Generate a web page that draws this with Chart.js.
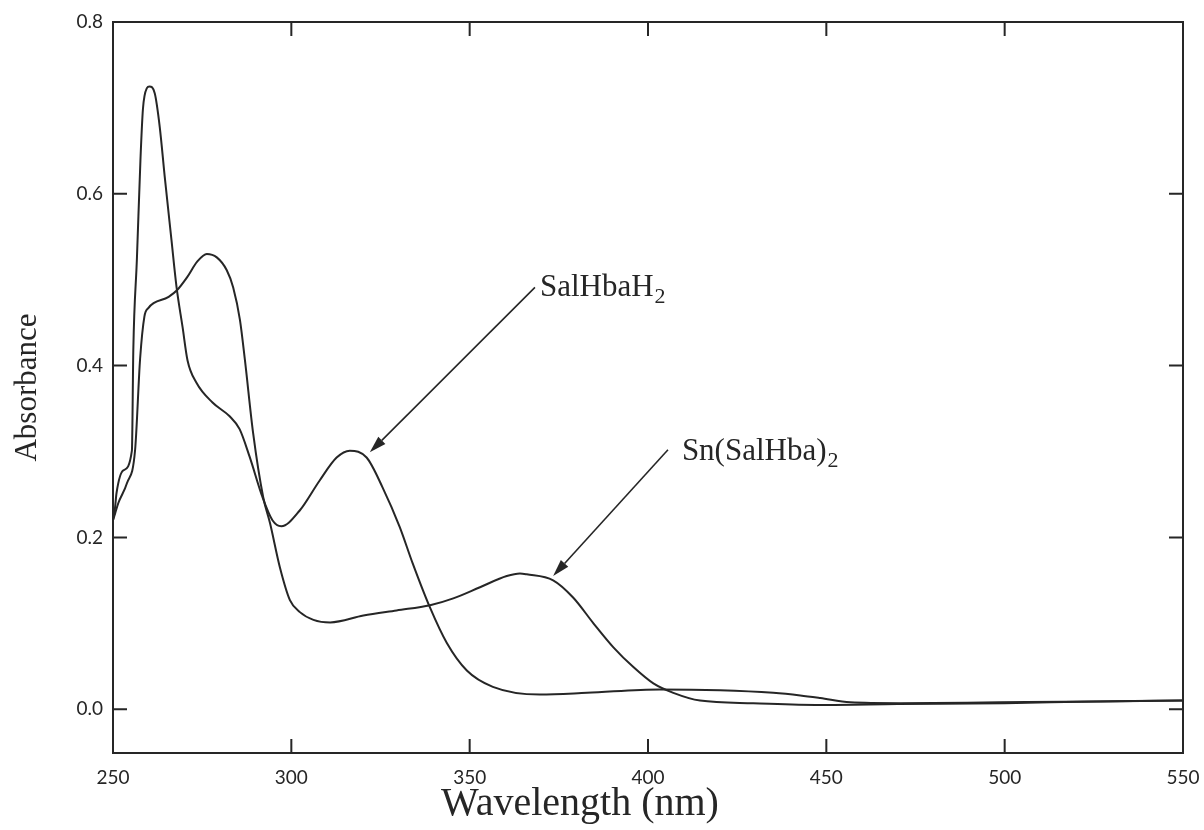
<!DOCTYPE html>
<html><head><meta charset="utf-8">
<script src="https://cdn.jsdelivr.net/npm/chart.js@4.4.0/dist/chart.umd.min.js"></script>
<style>html,body{margin:0;padding:0;background:#fff}#wrap{width:1204px;height:830px}</style>
</head><body><div id="wrap"><canvas id="c" width="1204" height="830"></canvas></div>
<script>
// ---- data ----
const seriesNames = ['SalHbaH2', 'Sn(SalHba)2'];

const wavelengthA = [250.0,250.5,251.0,252.9,255.3,255.7,256.7,257.7,258.4,259.5,260.2,261.7,263.1,264.5,266.4,267.8,269.5,270.9,273.4,277.9,282.7,285.5,288.3,291.9,294.7,297.2,302.3,307.9,312.7,316.4,321.1,325.6,330.4,334.0,338.8,343.6,349.2,356.5,369.7,382.9,403.3,420.2,435.1,442.7,448.3,456.7,470.7,498.7,526.8,550.0];
const absorbanceA = [0.220,0.232,0.252,0.278,0.301,0.419,0.524,0.640,0.699,0.723,0.725,0.717,0.678,0.620,0.546,0.492,0.445,0.406,0.380,0.357,0.341,0.326,0.294,0.247,0.220,0.213,0.231,0.266,0.293,0.301,0.293,0.258,0.212,0.170,0.119,0.077,0.045,0.026,0.017,0.019,0.023,0.022,0.019,0.016,0.013,0.008,0.007,0.008,0.009,0.010];

const wavelengthB = [250.0,250.6,251.5,253.9,256.2,257.6,258.8,259.9,265.6,268.0,270.8,273.6,276.3,279.1,281.9,283.7,285.6,287.0,289.3,292.1,294.0,296.8,299.6,302.4,306.2,310.9,320.2,329.5,338.9,345.4,352.9,360.4,364.1,366.0,373.4,379.0,384.7,390.3,395.9,401.5,407.1,414.6,429.5,448.2,470.0,500.0,525.0,550.0];
const absorbanceB = [0.220,0.228,0.240,0.263,0.302,0.408,0.457,0.467,0.480,0.488,0.503,0.521,0.530,0.526,0.511,0.491,0.453,0.406,0.321,0.247,0.217,0.165,0.127,0.113,0.104,0.101,0.109,0.115,0.121,0.129,0.142,0.155,0.158,0.157,0.150,0.130,0.100,0.072,0.049,0.030,0.019,0.010,0.007,0.005,0.006,0.007,0.009,0.010];

const xTickValues = [250, 300, 350, 400, 450, 500, 550];
const yTickValues = [0.0, 0.2, 0.4, 0.6, 0.8];

// annotation labels and arrows (in data units)
const labelMain = ['SalHbaH', 'Sn(SalHba)'];
const labelSub = ['2', '2'];
const labelAt = [[369.7, 0.481], [409.5, 0.290]];
const arrowFrom = [[368.3, 0.491], [405.6, 0.302]];
const arrowTo = [[322.0, 0.299], [373.4, 0.155]];

const INK = '#262626';
const SERIF = '"Liberation Serif", "DejaVu Serif", serif';
const SANS = 'Lato, "Open Sans", sans-serif';

const toPts = (xs, ys) => xs.map((x, i) => ({x, y: ys[i]}));

const framePlugin = {
  id: 'frame',
  afterDatasetsDraw(chart) {
    const {ctx, chartArea: a, scales: {x, y}} = chart;
    ctx.save();
    ctx.strokeStyle = INK;
    ctx.lineWidth = 2;
    ctx.strokeRect(a.left, a.top, a.right - a.left, a.bottom - a.top);
    const L = 14;
    ctx.beginPath();
    xTickValues.forEach(v => {
      const px = x.getPixelForValue(v);
      ctx.moveTo(px, a.bottom); ctx.lineTo(px, a.bottom - L);
      ctx.moveTo(px, a.top); ctx.lineTo(px, a.top + L);
    });
    yTickValues.forEach(v => {
      const py = y.getPixelForValue(v);
      ctx.moveTo(a.left, py); ctx.lineTo(a.left + L, py);
      ctx.moveTo(a.right, py); ctx.lineTo(a.right - L, py);
    });
    ctx.stroke();

    // arrows
    ctx.lineWidth = 1.6;
    ctx.fillStyle = INK;
    for (let i = 0; i < arrowFrom.length; i++) {
      const x0 = x.getPixelForValue(arrowFrom[i][0]), y0 = y.getPixelForValue(arrowFrom[i][1]);
      const x1 = x.getPixelForValue(arrowTo[i][0]), y1 = y.getPixelForValue(arrowTo[i][1]);
      const ang = Math.atan2(y1 - y0, x1 - x0);
      const hl = 17, hw = 5;
      const bx = x1 - hl * Math.cos(ang), by = y1 - hl * Math.sin(ang);
      ctx.beginPath(); ctx.moveTo(x0, y0); ctx.lineTo(bx, by); ctx.stroke();
      ctx.beginPath();
      ctx.moveTo(x1, y1);
      ctx.lineTo(bx + hw * Math.sin(ang), by - hw * Math.cos(ang));
      ctx.lineTo(bx - hw * Math.sin(ang), by + hw * Math.cos(ang));
      ctx.closePath(); ctx.fill();
    }
    // labels
    ctx.textBaseline = 'alphabetic';
    ctx.textAlign = 'left';
    for (let i = 0; i < labelMain.length; i++) {
      const px = x.getPixelForValue(labelAt[i][0]), py = y.getPixelForValue(labelAt[i][1]);
      ctx.font = '31px ' + SERIF;
      ctx.fillText(labelMain[i], px, py);
      const w = ctx.measureText(labelMain[i]).width;
      ctx.font = '22px ' + SERIF;
      ctx.fillText(labelSub[i], px + w + 1, py + 7);
    }
    // x axis title
    ctx.font = '40px ' + SERIF;
    ctx.textAlign = 'center';
    ctx.textBaseline = 'middle';
    ctx.fillText('Wavelength (nm)', 580, 804);
    ctx.restore();
  }
};

new Chart(document.getElementById('c'), {
  type: 'line',
  data: {
    datasets: [
      {label: seriesNames[0], data: toPts(wavelengthA, absorbanceA)},
      {label: seriesNames[1], data: toPts(wavelengthB, absorbanceB)}
    ].map(d => Object.assign(d, {
      borderColor: INK, borderWidth: 2, pointRadius: 0, fill: false,
      cubicInterpolationMode: 'monotone'
    }))
  },
  options: {
    responsive: false, animation: false, devicePixelRatio: 1,
    layout: {padding: {left: 0, top: 22, right: 21, bottom: 0}},
    plugins: {legend: {display: false}, tooltip: {enabled: false}},
    scales: {
      x: {
        type: 'linear', min: 250, max: 550,
        grid: {display: false, drawTicks: false},
        border: {display: false},
        afterBuildTicks: s => { s.ticks = xTickValues.map(v => ({value: v})); },
        afterFit: s => { s.height = 77; s.paddingLeft = 0; s.paddingRight = 0; },
        ticks: {color: INK, font: {family: SANS, size: 19}, padding: 13, maxRotation: 0, autoSkip: false}
      },
      y: {
        type: 'linear', min: -0.051, max: 0.8,
        grid: {display: false, drawTicks: false},
        border: {display: false},
        afterBuildTicks: s => { s.ticks = yTickValues.map(v => ({value: v})); },
        afterFit: s => { s.width = 113; s.paddingTop = 0; s.paddingBottom = 0; },
        ticks: {color: INK, font: {family: SANS, size: 19}, padding: 10, callback: v => Number(v).toFixed(1)},
        title: {display: true, text: 'Absorbance', color: INK, font: {family: SERIF, size: 31}, padding: {top: 9, bottom: 0}}
      }
    }
  },
  plugins: [framePlugin]
});
</script></body></html>
